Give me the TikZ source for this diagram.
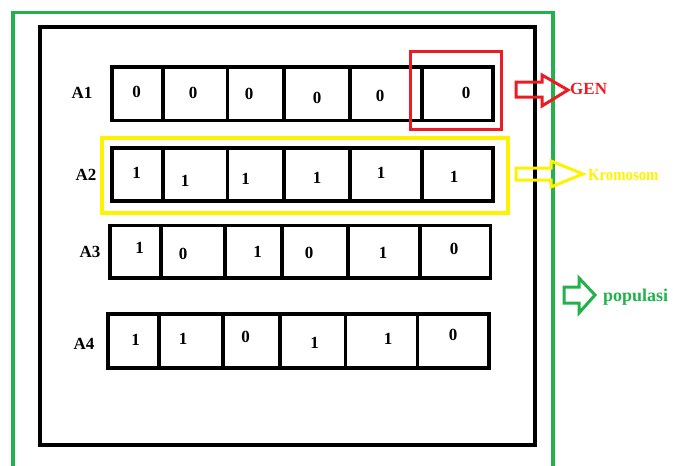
\documentclass[tikz,border=0pt]{standalone}
\usepackage{fontspec}
\setmainfont{Liberation Serif}
\definecolor{genred}{RGB}{237,28,36}
\definecolor{kromyellow}{RGB}{255,242,0}
\definecolor{popgreen}{RGB}{34,177,76}
\tikzset{
  cell/.style={draw=black, line width=3.7pt, inner sep=0pt, outer sep=0pt},
  digit/.style={inner sep=0pt, font=\fontsize{17}{17}\selectfont\bfseries},
  rowlabel/.style={inner sep=0pt, font=\fontsize{17}{17}\selectfont\bfseries},
  hollowarrow/.style={line width=3pt, line join=miter},
  tag/.style={inner sep=0pt, anchor=west, font=\bfseries}
}
% one chromosome row: id, top, bottom, list of i/left/right for its genes
\newcommand\generow[4]{%
  \foreach \i/\xl/\xr in {#4} {%
    \node[cell, minimum width={(\xr-\xl)*1pt}, minimum height={(#3-#2)*1pt}]
      (r#1c\i) at ({(\xl+\xr)/2},{(#2+#3)/2}) {};
  }%
}
\begin{document}
\begin{tikzpicture}[x=1pt,y=-1pt]
\useasboundingbox (0,0) rectangle (673,466);

% population frame, open at the bottom edge
\draw[popgreen, line width=3.2pt] (13,480) -- (13,12.5) -- (553,12.5) -- (553,480);
% container of the chromosomes
\node[draw=black, line width=4pt, inner sep=0pt, minimum width=495pt, minimum height=418pt]
  (box) at (287.5,236) {};

% chromosome rows
\generow{1}{67}{120.5}{1/112/163, 2/163/227.5, 3/227.5/284, 4/284/350, 5/350/422, 6/422/493}
\generow{2}{147.7}{200.7}{1/112/163, 2/163/227.5, 3/227.5/284, 4/284/350, 5/350/422, 6/422/493}
\generow{3}{225.5}{278}{1/110/161, 2/161/225, 3/225/282, 4/282/348, 5/348/420, 6/420/490.5}
\generow{4}{314}{368}{1/108/159, 2/159/223, 3/223/280, 4/280/345.5, 5/345.5/417.6, 6/417.6/489}

% row labels
\node[rowlabel] (la1) at (82,93) {A1};
\node[rowlabel] (la2) at (86,175) {A2};
\node[rowlabel] (la3) at (90,252) {A3};
\node[rowlabel] (la4) at (84,344) {A4};

% gene values
\foreach \n/\x/\y/\d in {
  a1/136.5/92/0, b1/193/93/0, c1/249/94/0, d1/317/98/0, e1/380/96/0, f1/466/93/0,
  a2/136.5/173/1, b2/185/181/1, c2/245.5/179/1, d2/317/178/1, e2/381/173/1, f2/454/177/1,
  a3/139.5/248/1, b3/183/254/0, c3/257.5/252/1, d3/309/253/0, e3/383/253/1, f3/454/249/0,
  a4/135.6/340/1, b4/183/339/1, c4/245.5/337/0, d4/314.6/343/1, e4/388/339/1, f4/453/335/0}
  \node[digit] (v\n) at (\x,\y) {\d};

% highlight of one gene and one chromosome
\draw[genred, line width=3pt] (410,51) rectangle (501,129);
\draw[kromyellow, line width=4pt] (102,137.7) rectangle (508,213);

% hollow arrows pointing at the captions
\draw[hollowarrow, genred] (516,82) -- (542,82) -- (542,75) -- (568,90)
  -- (542,106) -- (542,97) -- (516,97) -- cycle;
\draw[hollowarrow, kromyellow] (516,168) -- (551,168) -- (551,161) -- (583,174)
  -- (551,187) -- (551,180) -- (516,180) -- cycle;
\draw[hollowarrow, popgreen] (564,287) -- (579,287) -- (579,278) -- (595,295)
  -- (579,313) -- (579,303) -- (564,303) -- cycle;

% captions
\node[tag, genred, font=\fontsize{17}{17}\selectfont\bfseries] (gen) at (570,89) {GEN};
\node[tag, kromyellow, font=\fontsize{17}{17}\selectfont\bfseries, transform shape, xscale=0.87]
  (krom) at (588,175) {Kromosom};
\node[tag, popgreen, font=\fontsize{18}{18}\selectfont\bfseries] (pop) at (603,297) {populasi};
\end{tikzpicture}
\end{document}
